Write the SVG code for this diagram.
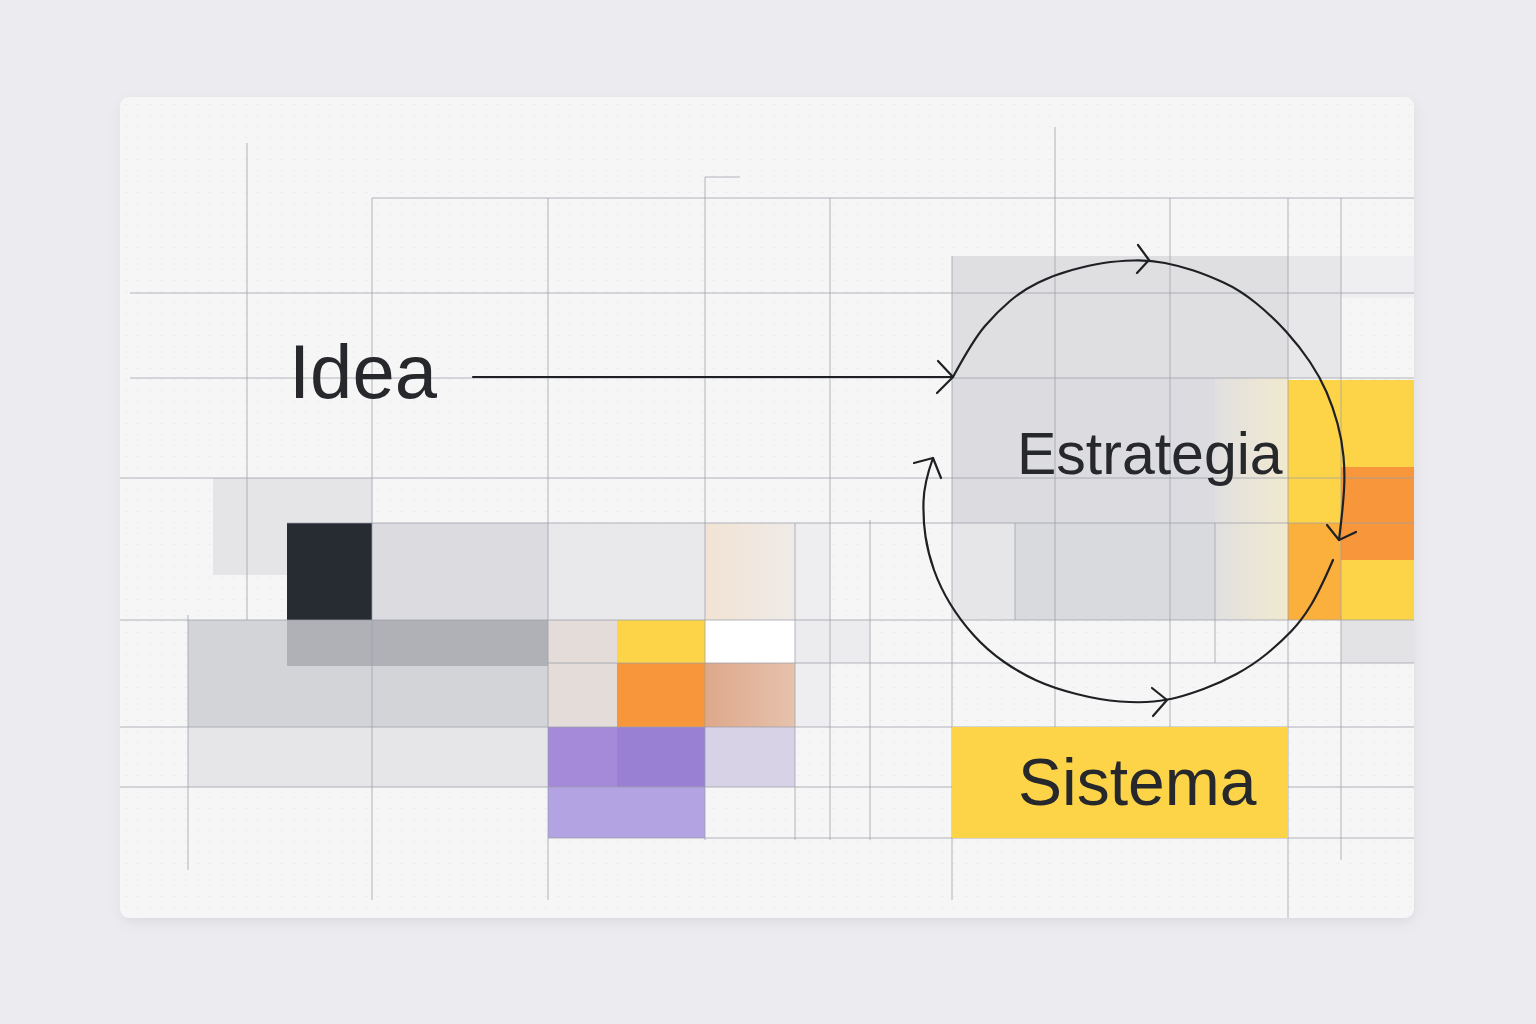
<svg xmlns="http://www.w3.org/2000/svg" width="1536" height="1024" viewBox="0 0 1536 1024">
<defs>
<style>
.g{stroke:#9b9fa9;stroke-width:1;stroke-opacity:0.75;fill:none}
.c{stroke:#1f2023;stroke-width:2.2;fill:none;stroke-linecap:round;stroke-linejoin:round}
.t{font-family:"Liberation Sans","Helvetica",Arial,sans-serif;fill:#26282c}
</style>
<filter id="sh" x="-5%" y="-5%" width="110%" height="115%">
<feGaussianBlur stdDeviation="6"/>
</filter>
<pattern id="dots" width="12" height="11" patternUnits="userSpaceOnUse">
<circle cx="6" cy="5.5" r="0.6" fill="#cfd0d6"/>
</pattern>
<linearGradient id="peach" x1="0" y1="0" x2="1" y2="0">
<stop offset="0" stop-color="#f2e3d4"/>
<stop offset="1" stop-color="#efebe8"/>
</linearGradient>
<linearGradient id="cream" x1="0" y1="0" x2="1" y2="0">
<stop offset="0" stop-color="#e1e0e0"/>
<stop offset="1" stop-color="#f1e9cf"/>
</linearGradient>
<linearGradient id="muted" x1="0" y1="0" x2="1" y2="0">
<stop offset="0" stop-color="#dea88a"/>
<stop offset="1" stop-color="#e6c2ad"/>
</linearGradient>
</defs>

<rect width="1536" height="1024" fill="#ecebef"/>
<rect x="122" y="102" width="1292" height="820" rx="10" fill="#c9c9cf" opacity="0.5" filter="url(#sh)"/>
<rect x="120" y="97" width="1294" height="821" rx="9" fill="#f6f6f6"/>
<rect x="120" y="97" width="1294" height="821" rx="9" fill="url(#dots)" opacity="0.7"/>

<g id="blocks-left">
<rect x="213" y="478" width="159" height="97" fill="#e5e5e7"/>
<rect x="372" y="523" width="176" height="97" fill="#dcdce0"/>
<rect x="548" y="523" width="157" height="97" fill="#e9e9ec"/>
<rect x="705" y="523" width="90" height="97" fill="url(#peach)"/>
<rect x="795" y="523" width="35" height="97" fill="#eeeef0"/>
<rect x="188" y="620" width="360" height="107" fill="#d3d4d8"/>
<rect x="287" y="620" width="261" height="46" fill="#afb1b7"/>
<rect x="188" y="727" width="360" height="60" fill="#e6e6e8"/>
<rect x="548" y="620" width="69" height="107" fill="#e3dcd9"/>
<rect x="617" y="620" width="88" height="43" fill="#fdd447"/>
<rect x="705" y="620" width="90" height="43" fill="#ffffff"/>
<rect x="795" y="620" width="75" height="43" fill="#ececef"/>
<rect x="617" y="663" width="88" height="64" fill="#f7963b"/>
<rect x="705" y="663" width="90" height="64" fill="url(#muted)"/>
<rect x="795" y="663" width="35" height="64" fill="#eeeef0"/>
<rect x="548" y="727" width="69" height="60" fill="#a48ad9"/>
<rect x="617" y="727" width="88" height="60" fill="#9a80d3"/>
<rect x="705" y="727" width="90" height="60" fill="#d8d2e7"/>
<rect x="548" y="787" width="157" height="51" fill="#b4a3e3"/>
<rect x="287" y="523" width="85" height="97" fill="#272b32"/>
</g>

<g id="blocks-right">
<rect x="952" y="256" width="336" height="122" fill="#dfdfe2"/>
<rect x="1288" y="256" width="53" height="122" fill="#e7e7ea"/>
<rect x="1341" y="256" width="73" height="42" fill="#efeff1"/>
<rect x="952" y="378" width="263" height="145" fill="#dcdce0"/>
<rect x="1215" y="378" width="73" height="242" fill="url(#cream)"/>
<rect x="952" y="523" width="63" height="97" fill="#e6e6e8"/>
<rect x="1015" y="523" width="200" height="97" fill="#d9dade"/>
<rect x="1288" y="380" width="126" height="240" fill="#fdd447"/>
<rect x="1341" y="467" width="73" height="93" fill="#f7963b"/>
<rect x="1288" y="523" width="53" height="97" fill="#fbb03e"/>
<rect x="1341" y="620" width="73" height="43" fill="#e3e3e6"/>
</g>

<g id="grid">
<line class="g" x1="247" y1="143" x2="247" y2="620"/>
<line class="g" x1="188" y1="615" x2="188" y2="870"/>
<line class="g" x1="372" y1="198" x2="372" y2="900"/>
<line class="g" x1="548" y1="198" x2="548" y2="900"/>
<line class="g" x1="705" y1="177" x2="705" y2="840"/>
<line class="g" x1="795" y1="523" x2="795" y2="840"/>
<line class="g" x1="830" y1="198" x2="830" y2="840"/>
<line class="g" x1="870" y1="520" x2="870" y2="840"/>
<line class="g" x1="952" y1="256" x2="952" y2="900"/>
<line class="g" x1="1015" y1="523" x2="1015" y2="620"/>
<line class="g" x1="1055" y1="127" x2="1055" y2="727"/>
<line class="g" x1="1170" y1="198" x2="1170" y2="727"/>
<line class="g" x1="1215" y1="523" x2="1215" y2="663"/>
<line class="g" x1="1288" y1="198" x2="1288" y2="918"/>
<line class="g" x1="1341" y1="198" x2="1341" y2="860"/>
<line class="g" x1="705" y1="177" x2="740" y2="177"/>
<line class="g" x1="372" y1="198" x2="1414" y2="198"/>
<line class="g" x1="130" y1="293" x2="1414" y2="293"/>
<line class="g" x1="130" y1="378" x2="1414" y2="378"/>
<line class="g" x1="120" y1="478" x2="1414" y2="478"/>
<line class="g" x1="287" y1="523" x2="1414" y2="523"/>
<line class="g" x1="120" y1="620" x2="1414" y2="620"/>
<line class="g" x1="548" y1="663" x2="1414" y2="663"/>
<line class="g" x1="120" y1="727" x2="1414" y2="727"/>
<line class="g" x1="120" y1="787" x2="1414" y2="787"/>
<line class="g" x1="548" y1="838" x2="1414" y2="838"/>
</g>

<g id="node-sistema">
<rect x="952" y="727" width="336" height="111" fill="#fdd447"/>
<text class="t" x="1018" y="805" font-size="66" fill="#1f2420">Sistema</text>
</g>

<g id="node-idea">
<text class="t" x="289" y="398" font-size="76">Idea</text>
</g>

<g id="node-estrategia">
<text class="t" x="1017" y="474" font-size="59">Estrategia</text>
</g>

<g id="connectors">
<path class="c" d="M473 377 H952"/>
<path class="c" d="M938 361 L953 377 L937 393"/>
<path class="c" d="M953 377 Q973 340 985 326 Q997 312 1010 301 Q1023 290 1038.5 282.5 Q1054 275 1072 270 Q1090 265 1103.5 263 Q1117 261 1133.5 260.5 Q1150 260 1165 263 Q1180 266 1193.5 270.5 Q1207 275 1223.5 282.5 Q1240 290 1256.5 303.5 Q1273 317 1286.5 332 Q1300 347 1310 362 Q1320 377 1326.5 392 Q1333 407 1337.5 423.5 Q1342 440 1343.5 456.5 Q1345 473 1344 490 Q1343 507 1339 540"/>
<path class="c" d="M1333 560 Q1320 590 1311 605 Q1302 620 1291 631.5 Q1280 643 1266.5 654 Q1253 665 1236.5 674 Q1220 683 1203.5 689 Q1187 695 1177 697.5 Q1167 700 1153.5 701.5 Q1140 703 1120 701.5 Q1100 700 1076.5 694 Q1053 688 1036.5 680.5 Q1020 673 1003.5 661.5 Q987 650 973.5 635 Q960 620 950 603.5 Q940 587 934 570 Q928 553 925.5 536.5 Q923 520 923.5 501.5 Q924 483 933 458"/>
<path class="c" d="M1138 245 L1149 260 L1137 273"/>
<path class="c" d="M1327 525 L1339 540 L1356 532"/>
<path class="c" d="M1152 688 L1167 700 L1153 716"/>
<path class="c" d="M914 463 L933 458 L941 478"/>
</g>
</svg>
